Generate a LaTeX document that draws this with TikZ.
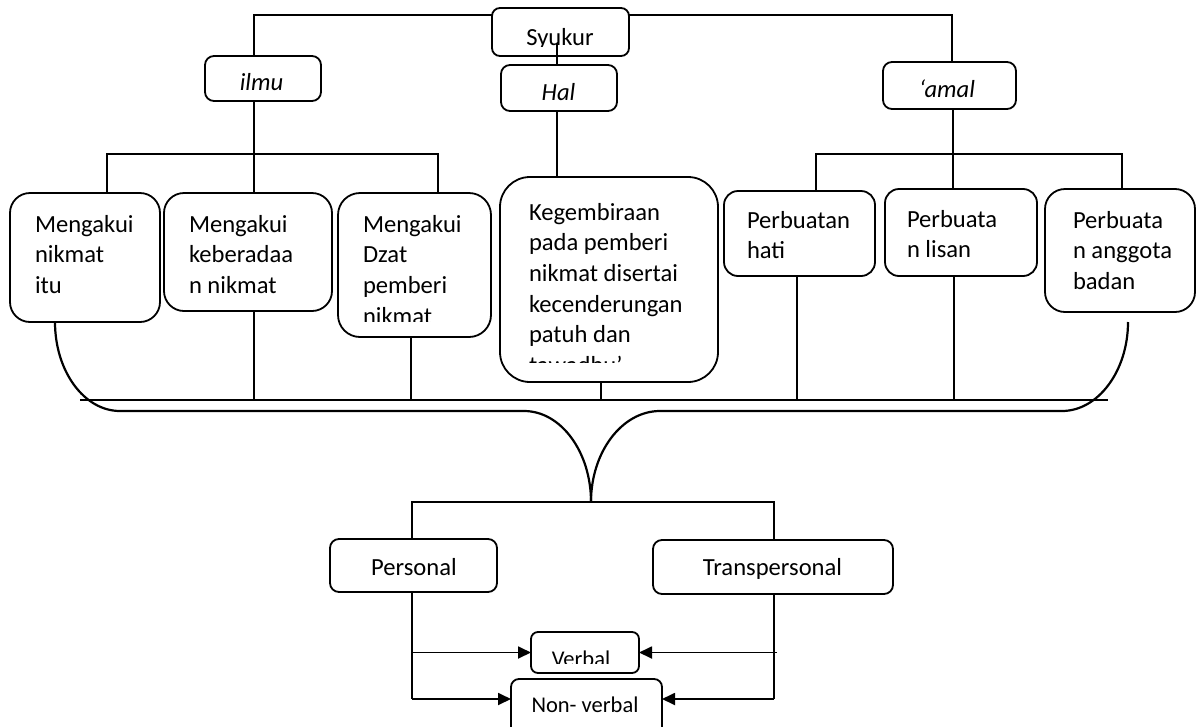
\documentclass[tikz,border=0pt]{standalone}
\usepackage{fontspec}
\setmainfont{Carlito}
\usetikzlibrary{arrows.meta,calc}

\newcommand\bodyfont{\fontsize{24.6}{30.7}\selectfont}
\newcommand\smallbodyfont{\fontsize{22.5}{28}\selectfont}

\tikzset{
  box/.style={draw, line width=1.8pt, inner sep=0pt, outer sep=0pt},
  link/.style={line width=1.8pt},
  bus/.style={line width=2.2pt},
  arr/.style={link, -{Triangle[length=13pt,width=12pt]}},
  lbl/.style={inner sep=0pt, anchor=base, font=\bodyfont},
  smalllbl/.style={inner sep=0pt, anchor=base, font=\smallbodyfont},
  para/.style={inner sep=0pt, outer sep=0pt, anchor=north west, align=left,
    yshift=21.49pt, font=\bodyfont},
}

\begin{document}
\begin{tikzpicture}[x=1pt, y=-1pt]
\clip (0,0) rectangle (1199,726);

% ---------- boxes ----------
\node[box, rounded corners=8pt,  minimum width=137pt, minimum height=48pt]  (syukur)    at (560.5,32)  {};
\node[box, rounded corners=9pt,  minimum width=116pt, minimum height=45pt]  (ilmu)      at (263,78.5)  {};
\node[box, rounded corners=9pt,  minimum width=116pt, minimum height=46pt]  (hal)       at (559,88)    {};
\node[box, rounded corners=9pt,  minimum width=133pt, minimum height=47pt]  (amal)      at (949.5,85.5){};
\node[box, rounded corners=20pt, minimum width=150pt, minimum height=129pt] (box1)      at (85,257.5)  {};
\node[box, rounded corners=20pt, minimum width=168pt, minimum height=118pt] (box2)      at (248,252)   {};
\node[box, rounded corners=22pt, minimum width=153pt, minimum height=144pt] (box3)      at (414.5,265) {};
\node[box, rounded corners=30pt, minimum width=218pt, minimum height=205pt] (keg)       at (609,279.5) {};
\node[box, rounded corners=14pt, minimum width=151pt, minimum height=85pt]  (hati)      at (799.5,233.5){};
\node[box, rounded corners=14pt, minimum width=152pt, minimum height=87pt]  (lisan)     at (961,232.5) {};
\node[box, rounded corners=20pt, minimum width=150pt, minimum height=123pt] (badan)     at (1120,250.5){};
\node[box, rounded corners=9pt,  minimum width=167pt, minimum height=53pt]  (personal)  at (413.5,565.5){};
\node[box, rounded corners=9pt,  minimum width=240pt, minimum height=54pt]  (trans)     at (773,567)   {};
\node[box, rounded corners=7pt,  minimum width=108pt, minimum height=41pt]  (verbal)    at (585,652.5) {};
\node[box, rounded corners=8pt,  minimum width=151pt, minimum height=56pt]  (nonverbal) at (586.5,707) {};

% ---------- texts ----------
\begin{scope}
  \clip (syukur.north west) rectangle ($(syukur.south east)+(0,-10)$);
  \node[lbl] (tSyukur) at (560,45.5) {Syukur};
\end{scope}
\node[lbl] (tIlmu) at (261.5,90.5) {\itshape ilmu};
\node[lbl] (tHal)  at (558.5,100)  {\itshape Hal};
\node[lbl] (tAmal) at (947,97)     {\itshape ‘amal};

\node[para] (t1) at (35,232)  {\strut Mengakui\\nikmat\\itu};
\node[para] (t2) at (189,232) {\strut Mengakui\\keberadaa\\n nikmat};
\begin{scope}
  \clip (box3.north west) rectangle ($(box3.south east)+(0,-15.5)$);
  \node[para] (t3) at (363,232) {\strut Mengakui\\Dzat\\pemberi\\nikmat};
\end{scope}
\begin{scope}
  \clip (keg.north west) rectangle ($(keg.south east)+(0,-20)$);
  \node[para] (tK) at (529,220) {\strut Kegembiraan\\pada pemberi\\nikmat disertai\\kecenderungan\\patuh dan\\tawadhu’};
\end{scope}
\node[para] (tH) at (747,228)  {\strut Perbuatan\\hati};
\node[para] (tL) at (907,227)  {\strut Perbuata\\n lisan};
\node[para] (tB) at (1073,228) {\strut Perbuata\\n anggota\\badan};

\node[lbl] (tPers)  at (414,575)   {Personal};
\node[lbl] (tTrans) at (772.5,575) {Transpersonal};
\begin{scope}
  \clip (verbal.north west) rectangle ($(verbal.south east)+(0,-10)$);
  \node[smalllbl] (tVerb) at (581,666) {Verbal};
\end{scope}
\node[smalllbl] (tNon) at (585,712) {Non- verbal};

% ---------- junction points ----------
\coordinate (tLft) at (254,15);
\coordinate (tRgt) at (952,15);
\coordinate (hTop) at (557,43);
\coordinate (iL) at (107,154);
\coordinate (iM) at (254,154);
\coordinate (iR) at (438,154);
\coordinate (aL) at (816,154);
\coordinate (aM) at (953,154);
\coordinate (aR) at (1122,154);
\coordinate (bL) at (80,400);
\coordinate (bR) at (1108,400);
\coordinate (d3) at (411,400);
\coordinate (dK) at (601,400);
\coordinate (dH) at (797,400);
\coordinate (dL) at (954,400);
\coordinate (brL) at (55,322);
\coordinate (brR) at (1128,322);
\coordinate (tip) at (591,502);
\coordinate (busL) at (412,502);
\coordinate (busR) at (774,502);
\coordinate (pV) at (412,652.5);
\coordinate (pN) at (412,699);
\coordinate (tV) at (777,652.5);
\coordinate (tN) at (774,699);

% ---------- connectors: top level ----------
\draw[link] (ilmu.north -| tLft) -- (tLft) -- (tLft -| syukur.west);
\draw[link] (tRgt -| syukur.east) -- (tRgt) -- (amal.north -| tRgt);
\draw[link] (hal.north -| hTop) -- (hTop);
\draw[link] (hal.south -| hTop) -- (keg.north -| hTop);

% ilmu branch
\draw[link] (ilmu.south -| iM) -- (box2.north -| iM);
\draw[link] (box1.north -| iL) -- (iL) -- (iR) -- (box3.north -| iR);

% amal branch
\draw[link] (amal.south -| aM) -- (lisan.north -| aM);
\draw[link] (hati.north -| aL) -- (aL) -- (aR) -- (badan.north -| aR);

% collecting line
\draw[bus] (bL) -- (bR);
\draw[link] (box2.south -| iM) -- (iM |- bL);
\draw[link] (box3.south -| d3) -- (d3);
\draw[link] (keg.south -| dK) -- (dK);
\draw[link] (hati.south -| dH) -- (dH);
\draw[link] (lisan.south -| dL) -- (dL);

% brace
\draw[bus] (brL) .. controls (55,371) and (84,411) .. (120,411) -- (524,411)
  .. controls (561,411) and (591,452) .. (tip);
\draw[bus] (brR) .. controls (1128,371) and (1098,411) .. (1062,411) -- (660,411)
  .. controls (622,411) and (591,452) .. (tip);

% personal / transpersonal
\draw[link] (personal.north -| busL) -- (busL) -- (busR) -- (trans.north -| busR);
\draw[link] (personal.south -| pN) -- (pN);
\draw[link] (trans.south -| tN) -- (tN);
\draw[arr] (pV) -- (verbal.west);
\draw[arr] (pN) -- (nonverbal.west |- pN);
\draw[arr] (tV) -- (verbal.east);
\draw[arr] (tN) -- (nonverbal.east |- tN);
\end{tikzpicture}
\end{document}
